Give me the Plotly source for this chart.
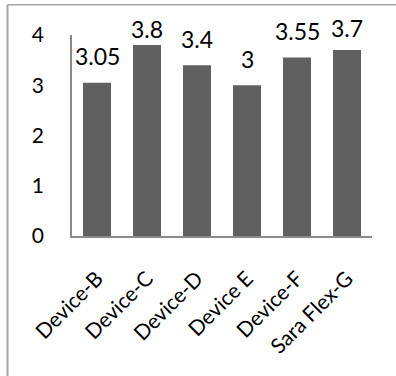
import plotly.graph_objects as go

# Average rating per device
devices = ["Device-B", "Device-C", "Device-D", "Device E", "Device-F", "Sara Flex-G"]
ratings = [3.05, 3.8, 3.4, 3, 3.55, 3.7]
y_ticks = [0, 1, 2, 3, 4]

# Vertical lift (px) of each value label above its bar, kept under the frame top
label_lift = [27, 16, 26, 26, 27, 22]

FONT = "Lato, 'Open Sans', sans-serif"
BAR = "#606060"
AXIS = "#8a8a8a"
FRAME = "#a6a6a6"

fig = go.Figure()
fig.add_trace(go.Bar(
    x=devices,
    y=ratings,
    marker=dict(color=BAR, line=dict(width=0)),
    hoverinfo="x+y",
))

for dev, val, lift in zip(devices, ratings, label_lift):
    fig.add_annotation(
        x=dev, y=val, xref="x", yref="y",
        text=f"{val:g}", showarrow=False,
        yanchor="middle", yshift=lift,
        font=dict(family=FONT, size=23, color="#000000"),
    )

# Outer chart frame: top and left edges
fig.add_shape(type="line", xref="paper", yref="paper",
              x0=-0.215, x1=1.1, y0=1.15, y1=1.15,
              line=dict(color=FRAME, width=1.5))
fig.add_shape(type="line", xref="paper", yref="paper",
              x0=-0.215, x1=-0.215, y0=1.15, y1=-0.75,
              line=dict(color=FRAME, width=2))

fig.update_layout(
    width=396, height=376,
    margin=dict(l=72, r=24, t=35, b=140),
    paper_bgcolor="white", plot_bgcolor="white",
    bargap=0.44,
    showlegend=False,
    font=dict(family=FONT, color="#000000"),
)
fig.update_xaxes(
    type="category",
    showline=True, linecolor=AXIS, linewidth=2,
    showgrid=False, ticks="", tickangle=-45,
    tickfont=dict(family=FONT, size=21, color="#000000"),
    ticklabelstandoff=20,
)
fig.update_yaxes(
    range=[0, 4], tickvals=y_ticks,
    showline=True, linecolor=AXIS, linewidth=1.5,
    showgrid=False, zeroline=False, ticks="",
    tickfont=dict(family=FONT, size=21, color="#000000"),
    ticklabelstandoff=22,
)

fig.write_html("out.html")
